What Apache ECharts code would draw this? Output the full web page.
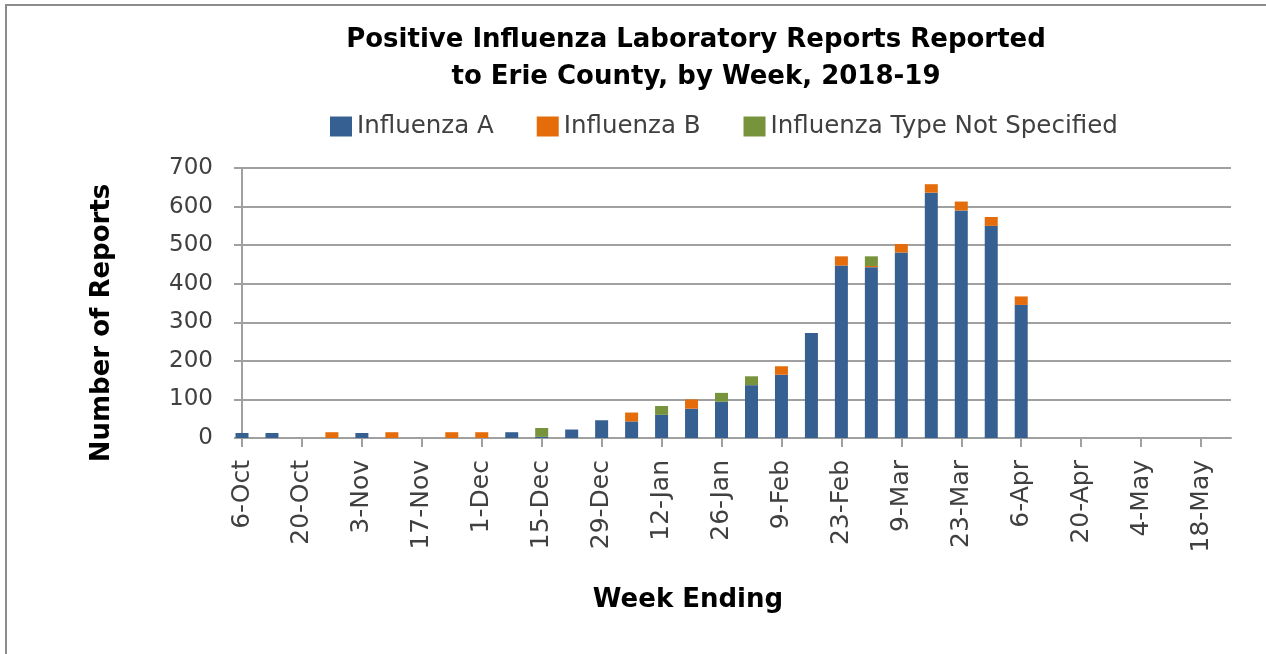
<html>
    <head>
        <meta charset='utf-8'>
        <script src='https://cdn.jsdelivr.net/npm/echarts@6/dist/echarts.min.js'></script>
    </head>
    <body>
        <style>
            html, body, #main {
                width: 100%;
                height: 100%;
                margin: 0;
                background: #fff;
            }
        </style>
        <div id='main'></div>
        <script>

            // week ending dates (last one is the unlabelled slot at the right end)
            var weeks = ['6-Oct', '13-Oct', '20-Oct', '27-Oct', '3-Nov', '10-Nov', '17-Nov', '24-Nov',
                '1-Dec', '8-Dec', '15-Dec', '22-Dec', '29-Dec', '5-Jan', '12-Jan', '19-Jan', '26-Jan',
                '2-Feb', '9-Feb', '16-Feb', '23-Feb', '2-Mar', '9-Mar', '16-Mar', '23-Mar', '30-Mar',
                '6-Apr', '13-Apr', '20-Apr', '27-Apr', '4-May', '11-May', '18-May', '25-May'];

            var fluA = [13, 13, 0, 0, 13, 0, 0, 0, 0, 15, 3, 22, 46, 43, 60, 76, 94,
                137, 164, 272, 447, 443, 481, 636, 590, 550, 345, 0, 0, 0, 0, 0, 0, 0];

            var fluB = [0, 0, 0, 15, 0, 15, 0, 15, 15, 0, 0, 0, 0, 23, 0, 24, 0,
                0, 22, 0, 24, 3, 22, 22, 23, 23, 22, 0, 0, 0, 0, 0, 0, 0];

            var fluNotSpecified = [0, 0, 0, 0, 0, 0, 0, 0, 0, 0, 23, 0, 0, 0, 23, 0, 23,
                23, 0, 0, 0, 25, 0, 0, 0, 0, 0, 0, 0, 0, 0, 0, 0, 0];

            var yTicks = { min: 0, max: 700, interval: 100 };

            var FONT = 'DejaVu Sans';
            var GRAY = '#a0a0a0';

            var chart = echarts.init(document.getElementById('main'));

            function barSeries(name, data, color) {
                return {
                    name: name,
                    type: 'bar',
                    stack: 'reports',
                    barWidth: 13,
                    // empty weeks draw nothing
                    data: data.map(function (v) { return v === 0 ? '-' : v; }),
                    itemStyle: { color: color },
                    emphasis: { disabled: true }
                };
            }

            var option = {
                animation: false,
                backgroundColor: '#fff',
                title: {
                    text: 'Positive Influenza Laboratory Reports Reported\nto Erie County, by Week, 2018-19',
                    left: 696,
                    textAlign: 'center',
                    top: 22,
                    padding: 0,
                    textStyle: {
                        fontFamily: FONT,
                        fontWeight: 'bold',
                        fontSize: 26,
                        lineHeight: 37,
                        color: '#000'
                    }
                },
                legend: {
                    left: 330,
                    top: 114,
                    padding: 0,
                    itemWidth: 22,
                    itemHeight: 20,
                    itemGap: 43,
                    icon: 'rect',
                    textStyle: {
                        fontFamily: FONT,
                        fontSize: 24.5,
                        color: '#404040'
                    },
                    data: ['Influenza A', 'Influenza B', 'Influenza Type Not Specified']
                },
                grid: {
                    left: 242,
                    right: 35,
                    top: 168,
                    bottom: 216,
                    containLabel: false
                },
                xAxis: {
                    type: 'category',
                    data: weeks,
                    boundaryGap: false,
                    axisLine: { lineStyle: { color: GRAY, width: 2 } },
                    axisTick: { interval: 1, length: 9, lineStyle: { color: GRAY, width: 2 } },
                    axisLabel: {
                        interval: 1,
                        rotate: 90,
                        margin: 22,
                        fontFamily: FONT,
                        fontSize: 25,
                        color: '#404040'
                    },
                    splitLine: { show: false }
                },
                yAxis: {
                    type: 'value',
                    min: yTicks.min,
                    max: yTicks.max,
                    interval: yTicks.interval,
                    axisLine: { show: true, lineStyle: { color: GRAY, width: 2 } },
                    axisTick: { show: true, length: 8, lineStyle: { color: GRAY, width: 2 } },
                    axisLabel: {
                        margin: 29,
                        fontFamily: FONT,
                        fontSize: 23,
                        color: '#404040'
                    },
                    splitLine: { lineStyle: { color: GRAY, width: 2 } }
                },
                graphic: [
                    {
                        type: 'polyline',
                        shape: { points: [[6, 654], [6, 5], [1266, 5]] },
                        style: { stroke: '#8c8c8c', lineWidth: 2, fill: null },
                        silent: true
                    },
                    {
                        type: 'text',
                        x: 102,
                        y: 323,
                        rotation: Math.PI / 2,
                        silent: true,
                        style: {
                            text: 'Number of Reports',
                            fontFamily: FONT,
                            fontWeight: 'bold',
                            fontSize: 26,
                            fill: '#000',
                            align: 'center',
                            verticalAlign: 'middle'
                        }
                    },
                    {
                        type: 'text',
                        x: 688,
                        y: 600,
                        silent: true,
                        style: {
                            text: 'Week Ending',
                            fontFamily: FONT,
                            fontWeight: 'bold',
                            fontSize: 26,
                            fill: '#000',
                            align: 'center',
                            verticalAlign: 'middle'
                        }
                    }
                ],
                series: [
                    barSeries('Influenza A', fluA, '#376092'),
                    barSeries('Influenza B', fluB, '#e46c0a'),
                    barSeries('Influenza Type Not Specified', fluNotSpecified, '#77933c')
                ]
            };

            chart.setOption(option);

        </script>
    </body>
</html>
